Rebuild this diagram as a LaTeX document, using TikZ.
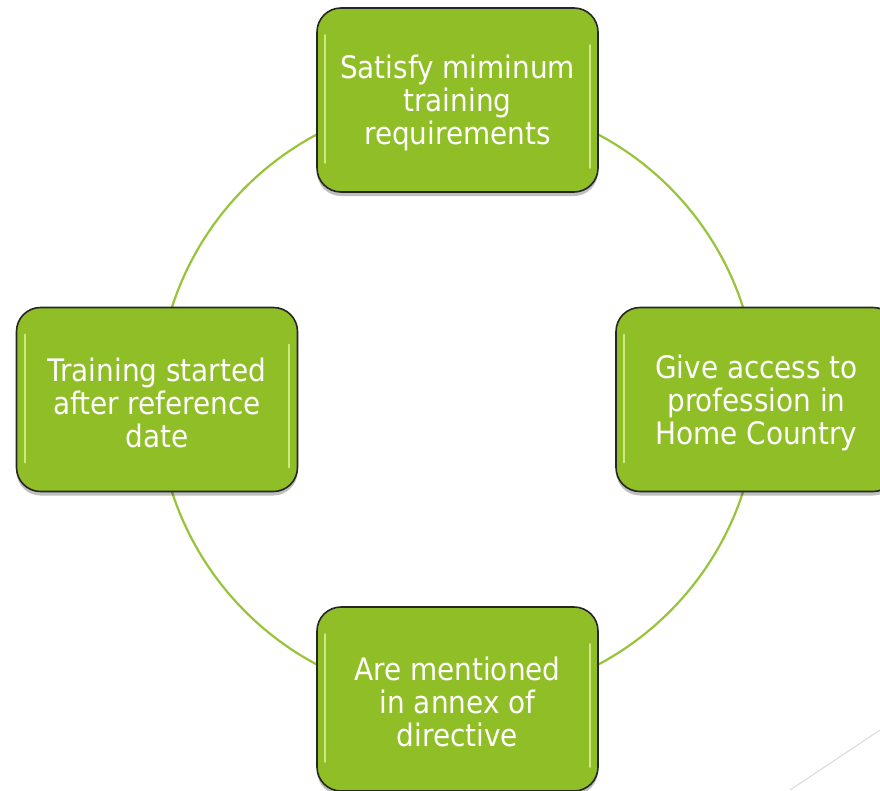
\documentclass[tikz,border=0pt]{standalone}
\usepackage{fontspec}
\setmainfont{DejaVu Sans Condensed}
\usetikzlibrary{shadows}
\definecolor{boxgreen}{HTML}{8FBE26}
\definecolor{ringgreen}{HTML}{98C43A}
\definecolor{gloss}{HTML}{DDF59A}
\tikzset{
  stagebox/.style={draw=black!85, line width=1.6pt, fill=boxgreen, rounded corners=24pt,
    minimum width=281pt, minimum height=184pt, inner sep=0pt,
    drop shadow={shadow xshift=0pt, shadow yshift=-4pt, opacity=0.25, fill=black}},
  stagetext/.style={text=white, align=center, font=\fontsize{31pt}{33pt}\selectfont, inner sep=0pt},
  ring/.style={draw=ringgreen, line width=2.2pt},
  glossline/.style={draw=gloss, line width=2pt, line cap=round, opacity=0.8}
}
\begin{document}
\begin{tikzpicture}[x=1pt,y=-1pt]
\useasboundingbox (0,0) rectangle (880,790);
\clip (0,0) rectangle (880,790);
\fill[white] (0,0) rectangle (880,790);
\coordinate (c) at (457.5,399.5);
\draw[ring] (c) circle[radius=300];
\coordinate (g1) at (790,790);
\coordinate (g2) at (880,730);
\draw[black!15, line width=1pt] (g1) -- (g2);
\node[stagebox] (top) at (457.5,100) {};
\node[stagebox] (left) at (157,399.5) {};
\node[stagebox] (right) at (756.5,399.5) {};
\node[stagebox] (bot) at (457.5,699) {};
\node[stagetext] (ttop) at ([yshift=-3pt]top.center) {Satisfy miminum\\training\\requirements};
\node[stagetext] (tleft) at ([yshift=-3pt]left.center) {Training started\\after reference\\date};
\node[stagetext] (tright) at ([yshift=-3pt]right.center) {Give access to\\profession in\\Home Country};
\node[stagetext] (tbot) at ([yshift=-3pt]bot.center) {Are mentioned\\in annex of\\directive};
\foreach \n in {top,left,right,bot}{
  \draw[glossline] ([xshift=9pt,yshift=-28pt]\n.north west) -- ([xshift=9pt,yshift=30pt]\n.south west);
  \draw[glossline] ([xshift=-9pt,yshift=-38pt]\n.north east) -- ([xshift=-9pt,yshift=25pt]\n.south east);
}
\end{tikzpicture}
\end{document}
